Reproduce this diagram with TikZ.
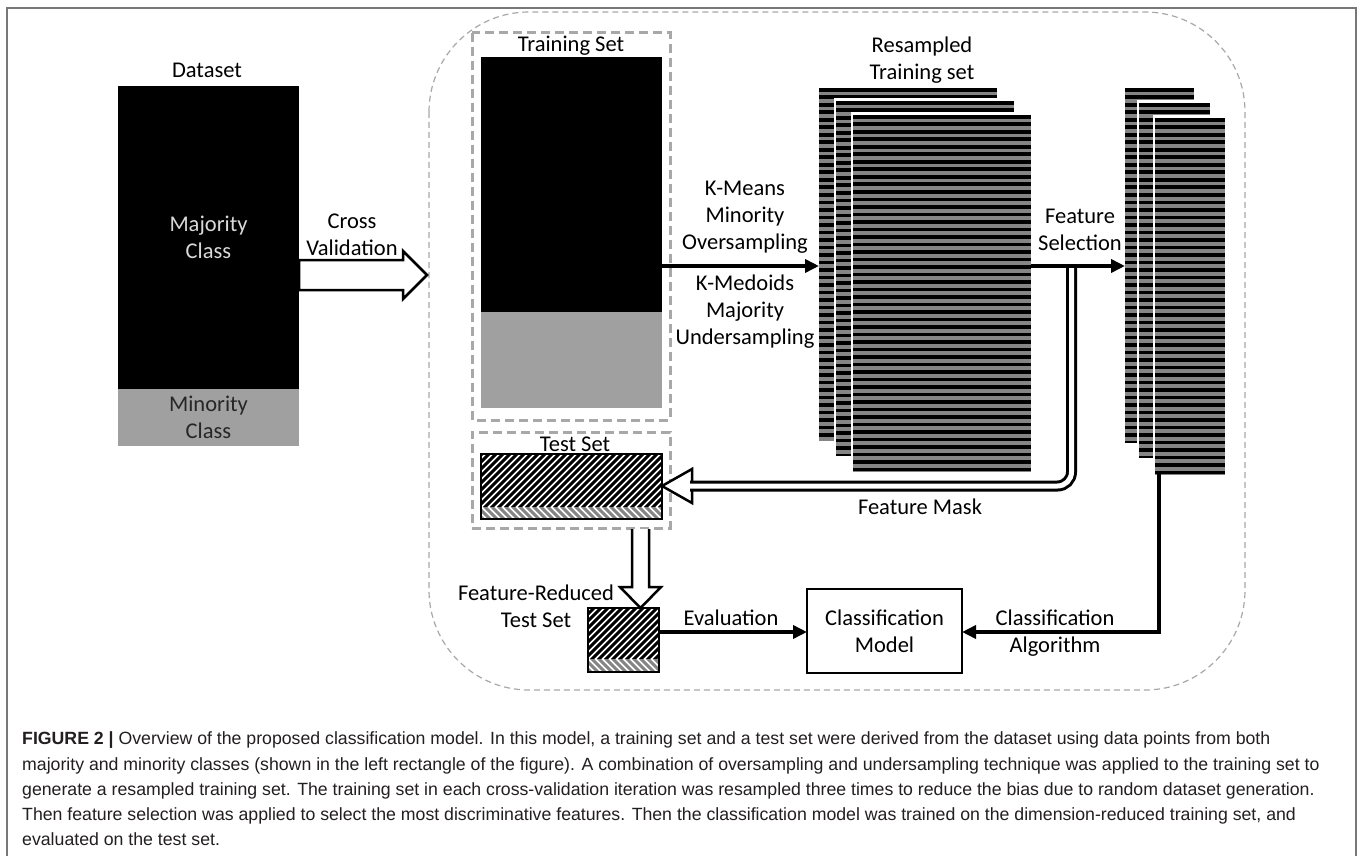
\documentclass[tikz,border=0pt]{standalone}
\usepackage{fontspec}
\setmainfont{Carlito}
\newfontfamily\capfont{Liberation Sans}
\usetikzlibrary{arrows.meta,calc}
\definecolor{dgrey}{HTML}{A0A0A0}
\definecolor{sgrey}{HTML}{858585}
\definecolor{dashgrey}{HTML}{A8A8A8}
\definecolor{framegrey}{HTML}{777777}
\definecolor{captxt}{HTML}{231F20}
\definecolor{lighttxt}{HTML}{D9D9D9}
\tikzset{
  lbl/.style={font=\fontsize{22.5}{27}\selectfont, align=center, inner sep=0},
  arr/.style={line width=3.5pt, -{Triangle[length=14pt,width=13pt]}},
  blockarrow/.style={line width=2.5pt, fill=white, line join=miter},
  setbox/.style={draw=dashgrey, line width=3pt, dash pattern=on 9pt off 5pt},
  plainrect/.style={inner sep=0, outer sep=0, anchor=north west},
  caption/.style={anchor=base west, inner sep=0, text=captxt, font=\capfont\fontsize{17.7}{25}\selectfont},
}
\newcommand{\stripebox}[5]{%
  \fill[white] (#2-2.5,#3-2.5) rectangle (#4+2.5,#5+2.5);
  \node[plainrect, fill=black, minimum width={#4-#2}, minimum height={#5-#3}] (#1) at (#2,#3) {};
  \begin{scope}
    \clip (#2,#3) rectangle (#4,#5);
    \foreach \k in {0,...,48}{\fill[sgrey] (#2,#3+\k*7.5+3.75) rectangle (#4,#3+\k*7.5+7.5);}
  \end{scope}}
\newcommand{\hatchbox}[6]{%
  \node[plainrect, minimum width={#4-#2}, minimum height={#5-#3}] (#1) at (#2,#3) {};
  \begin{scope}
    \clip (#2,#3) rectangle (#4,#6);
    \foreach \s in {0,7,...,280}{\draw[line width=3pt] (#2-70+\s,#6+5) -- ++(80,-80);}
  \end{scope}
  \begin{scope}
    \clip (#2,#6+1) rectangle (#4,#5);
    \foreach \s in {0,7,...,280}{\draw[sgrey,line width=3pt] (#2-30+\s,#6-5) -- ++(30,30);}
  \end{scope}
  \draw[line width=1.5pt] (#2,#3) rectangle (#4,#5);}
\begin{document}
\begin{tikzpicture}[x=1pt,y=-1pt]
\useasboundingbox (0,0) rectangle (1358,856);
\fill[white] (0,0) rectangle (1358,856);
% outer frame
\draw[framegrey, line width=1.5pt] (7,880) -- (7,8) -- (1356,8) -- (1356,880);
% big dashed region
\draw[dashgrey, line width=1.2pt, dash pattern=on 6pt off 4pt, rounded corners=100pt] (429,12) rectangle (1245,690);

% dataset
\node[lbl] (dslbl) at (207,70) {Dataset};
\node[plainrect, fill=black, minimum width=181, minimum height=303] (major) at (118,86) {};
\node[plainrect, fill=dgrey, minimum width=181, minimum height=57] (minor) at (118,389) {};
\node[lbl, text=lighttxt] (majlbl) at (major.center) {Majority\\Class};
\node[lbl, text=black!85] (minlbl) at (minor.center) {Minority\\Class};

% cross validation arrow
\coordinate (cvtip) at (427,275);
\draw[blockarrow] (major.east |- 0,260) -- (403,260) -- (403,251) -- (cvtip) -- (403,299) -- (403,290) -- (major.east |- 0,290) -- cycle;
\node[lbl] (cvlbl) at (352,235) {Cross\\Validation};

% training set
\draw[setbox] (472,33) rectangle (670,420);
\node[lbl] (trlbl) at (571,46) {Training Set};
\node[plainrect, fill=black, minimum width=181, minimum height=255] (train) at (481,57) {};
\node[plainrect, fill=dgrey, minimum width=181, minimum height=96] (trainmin) at (481,312) {};

% test set
\node[setbox, plainrect, minimum width=198, minimum height=96] (testbox) at (472,432) {};
\node[lbl] (tslbl) at (575,444) {Test Set};
\hatchbox{test}{481}{454}{662}{519}{506}

% resampled training set
\node[lbl] (rslbl) at (922,60) {Resampled\\Training set};
\stripebox{rs1}{819}{88}{997}{441}
\stripebox{rs2}{836}{101}{1014}{456}
\stripebox{rs3}{853}{115}{1031}{471}

% feature-selected sets
\stripebox{fs1}{1125}{88}{1194}{443}
\stripebox{fs2}{1139}{103}{1210}{458}
\stripebox{fs3}{1155}{118}{1225}{474}

% resampling arrow
\coordinate (lvl) at (0,266);
\draw[arr] (train.east |- lvl) -- (rs1.west |- lvl);
\node[lbl] (kmeans) at (745,217) {K-Means\\Minority\\Oversampling};
\node[lbl] (kmed) at (745,312) {K-Medoids\\Majority\\Undersampling};

% feature selection arrow
\draw[arr] (rs3.east |- lvl) -- (fs1.west |- lvl);
\node[lbl] (fsel) at (1080,230) {Feature\\Selection};

% feature mask
\coordinate (fmtop) at (1071.5,268);
\coordinate (fmtip) at (test.east |- 0,486);
\draw[blockarrow] ($(fmtip)+(30,-17)$) -- (fmtip) -- ($(fmtip)+(30,17)$) -- cycle;
\draw[line width=3pt, double=white, double distance=5pt, rounded corners=14pt] (fmtop) |- ($(fmtip)+(28,0)$);
\node[lbl] (fmlbl) at (920,507) {Feature Mask};

% feature-reduced test set
\hatchbox{frt}{588}{608}{659}{672}{658}
\node[lbl] (frlbl) at (536,606) {Feature-Reduced\\Test Set};
\draw[blockarrow] (632,529) -- (632,587) -- (620,587) -- (frt.north -| 640.5,0) -- (661,587) -- (649,587) -- (649,529);

% classification model
\node[plainrect, draw=black, line width=2pt, minimum width=155, minimum height=84] (cm) at (807,589) {};
\node[lbl] (cmlbl) at (cm.center) {Classification\\Model};
\coordinate (evl) at (0,632);
\draw[arr] (frt.east |- evl) -- (cm.west |- evl);
\node[lbl] (evlbl) at (731,618) {Evaluation};
\draw[arr] (fs3.south -| 1159,0) |- (cm.east |- evl);
\node[lbl] (calbl) at (1055,633) {Classification\\Algorithm};

% caption
\node[caption] (c1) at (22,744) {\textbf{FIGURE 2 |} Overview of the proposed classification model. In this model, a training set and a test set were derived from the dataset using data points from both};
\node[caption] (c2) at (22,770) {majority and minority classes (shown in the left rectangle of the figure). A combination of oversampling and undersampling technique was applied to the training set to};
\node[caption] (c3) at (22,795) {generate a resampled training set. The training set in each cross-validation iteration was resampled three times to reduce the bias due to random dataset generation.};
\node[caption] (c4) at (22,820) {Then feature selection was applied to select the most discriminative features. Then the classification model was trained on the dimension-reduced training set, and};
\node[caption] (c5) at (22,845) {evaluated on the test set.};
\end{tikzpicture}
\end{document}
